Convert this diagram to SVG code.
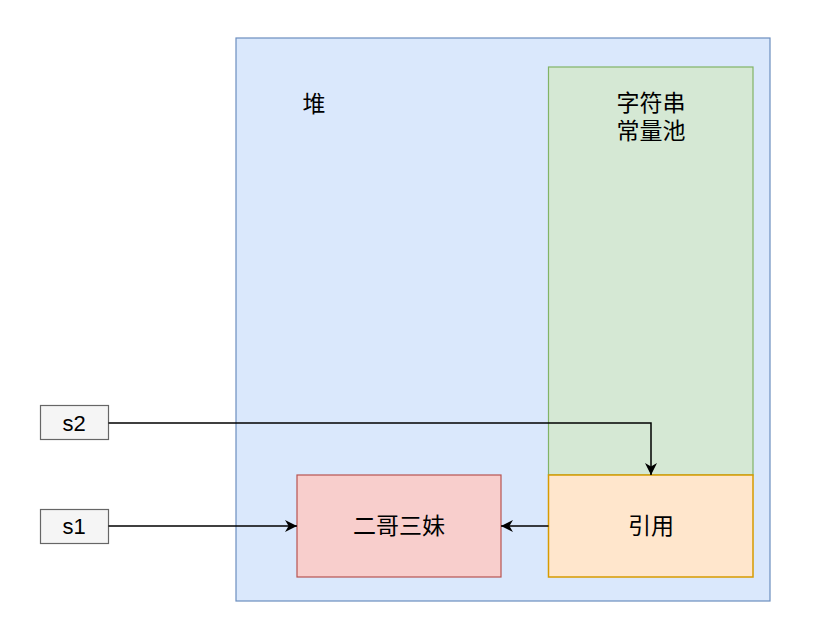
<svg xmlns="http://www.w3.org/2000/svg" width="824" height="628" viewBox="0 0 824 628">
<style>
text{font-family:"Liberation Sans","Noto Sans CJK SC",sans-serif;font-size:23px;fill:#000;text-anchor:middle;dominant-baseline:central}
.s{font-size:22px}
.c{stroke:#000;stroke-width:1.5;fill:none}
</style>
<defs>
<marker id="a" viewBox="0 0 10 10" refX="10" refY="5" markerWidth="12" markerHeight="12" markerUnits="userSpaceOnUse" orient="auto"><path d="M0,0L10,5L0,10L3,5Z" fill="#000"/></marker>
</defs>
<rect width="824" height="628" fill="#fff"/>
<g id="heap"><rect x="236" y="38" width="534" height="563" fill="#dae8fc" stroke="#6c8ebf" stroke-width="1.2"/><text x="314" y="104">堆</text></g>
<g id="pool"><rect x="548.5" y="67" width="204.5" height="408" fill="#d5e8d4" stroke="#82b366" stroke-width="1.2"/><text x="651" y="103">字符串</text><text x="651" y="131">常量池</text></g>
<g id="ref"><rect x="548.5" y="475" width="204.5" height="102" fill="#ffe6cc" stroke="#d79b00" stroke-width="1.5"/><text x="651" y="526">引用</text></g>
<g id="obj"><rect x="297" y="475" width="204" height="102" fill="#f8cecc" stroke="#b85450" stroke-width="1.2"/><text x="399" y="526">二哥三妹</text></g>
<g id="s2"><rect x="40.5" y="405.5" width="68" height="34" fill="#f5f5f5" stroke="#666" stroke-width="1.2"/><text class="s" x="74" y="423">s2</text></g>
<g id="s1"><rect x="40.5" y="509.5" width="68" height="34" fill="#f5f5f5" stroke="#666" stroke-width="1.2"/><text class="s" x="74" y="526">s1</text></g>
<g id="connectors">
<path class="c" d="M108.5,423H651V475" marker-end="url(#a)"/>
<path class="c" d="M108.5,526H297" marker-end="url(#a)"/>
<path class="c" d="M548.5,526H501" marker-end="url(#a)"/>
</g>
</svg>
